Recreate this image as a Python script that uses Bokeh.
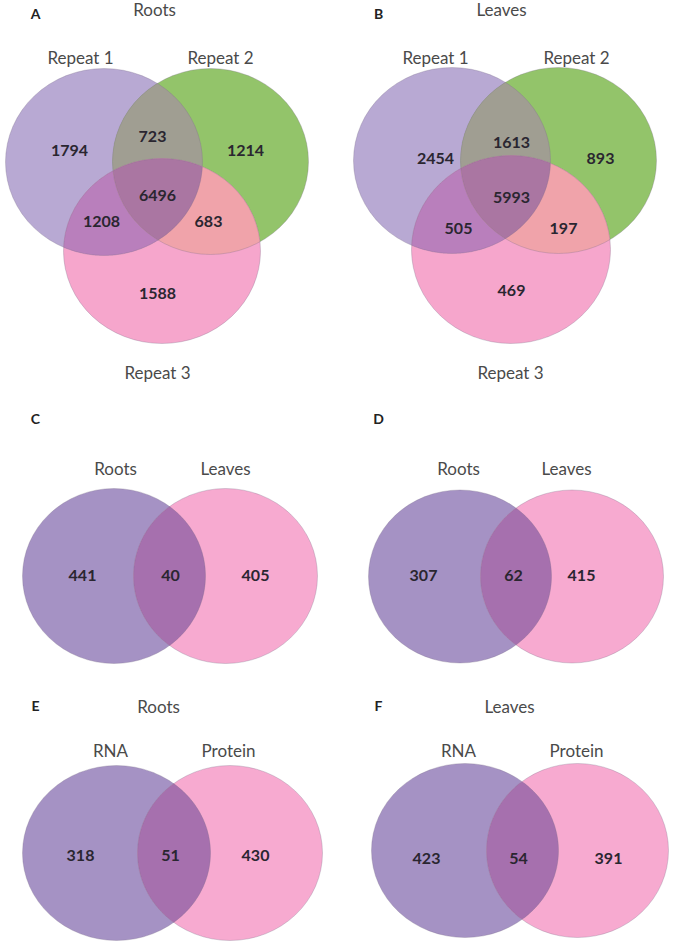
import numpy as np
from bokeh.plotting import figure
from bokeh.models import Range1d
from bokeh.core.properties import value
from bokeh.embed import file_html
from bokeh.resources import INLINE

# ---------------- data ----------------
panel_letters = ["A", "B", "C", "D", "E", "F"]
panel_titles = ["Roots", "Leaves", "", "", "Roots", "Leaves"]
repeat_sets = ["Repeat 1", "Repeat 2", "Repeat 3"]
# order: only1, only2, only3, 1&2, 1&3, 2&3, 1&2&3
roots_counts = [1794, 1214, 1588, 723, 1208, 683, 6496]
leaves_counts = [2454, 893, 469, 1613, 505, 197, 5993]
tissue_sets = ["Roots", "Leaves"]
omic_sets = ["RNA", "Protein"]
# order: only left, both, only right
c_counts = [441, 40, 405]
d_counts = [307, 62, 415]
e_counts = [318, 51, 430]
f_counts = [423, 54, 391]

# ---------------- styles ----------------
FONT = value("Lato")
PURPLE3, GREEN3, PINK3 = "#b8a9d3", "#93c46a", "#f6a6cc"
PG3, PP3, GP3, ALL3 = "#a09e92", "#b97fbc", "#f0a3aa", "#aa76a2"
PURPLE2, PINK2, OV2 = "#a592c4", "#f7aad0", "#a670ae"
EDGE = "#7d6f8c"
NUM_COLOR, LAB_COLOR = "#2a2630", "#4a4a4a"

p = figure(width=676, height=946, output_backend="svg", toolbar_location=None,
           x_range=Range1d(0, 676), y_range=Range1d(946, 0), min_border=0)
p.axis.visible = False
p.grid.visible = False
p.outline_line_color = None
p.background_fill_color = "white"
p.border_fill_color = "white"


def ell_pts(e, n=720):
    cx, cy, rx, ry = e
    t = np.linspace(0, 2 * np.pi, n, endpoint=False)
    return cx + rx * np.cos(t), cy + ry * np.sin(t)


def inside(x, y, e):
    cx, cy, rx, ry = e
    return ((x - cx) / rx) ** 2 + ((y - cy) / ry) ** 2 <= 1.0 + 1e-9


def intersection(ells):
    xs, ys = [], []
    for i, e in enumerate(ells):
        x, y = ell_pts(e)
        m = np.ones_like(x, dtype=bool)
        for j, o in enumerate(ells):
            if j != i:
                m &= inside(x, y, o)
        xs.append(x[m]); ys.append(y[m])
    x = np.concatenate(xs); y = np.concatenate(ys)
    mx, my = x.mean(), y.mean()
    order = np.argsort(np.arctan2(y - my, x - mx))
    return list(x[order]), list(y[order])


def draw_ellipse(e, color):
    cx, cy, rx, ry = e
    p.ellipse(x=[cx], y=[cy], width=[2 * rx], height=[2 * ry], fill_color=color,
              line_color=None)


def draw_outline(e):
    cx, cy, rx, ry = e
    p.ellipse(x=[cx], y=[cy], width=[2 * rx], height=[2 * ry], fill_color=None,
              line_color=EDGE, line_alpha=0.3, line_width=1)


def draw_patch(ells, color):
    x, y = intersection(ells)
    p.patch(x=x, y=y, fill_color=color, line_color=None)


def texts(xs, ys, labels, size, color, style="normal"):
    p.text(x=xs, y=ys, text=[str(s) for s in labels], text_align="center",
           text_baseline="middle", text_font=FONT, text_font_size=size,
           text_color=color, text_font_style=style)


# ---------------- three-set panels ----------------
three_layout = [
    dict(e=[(103.5, 161.5, 98.5, 93.5), (210, 161, 98, 93), (161.5, 250.5, 98.5, 92.5)],
         cpos=[(69, 150), (245, 150), (157, 293), (152, 136), (101, 221), (208, 221), (157, 195)],
         lpos=[(80, 57), (220, 57), (157, 372)], letter=(35, 13), title=(154, 9),
         counts=roots_counts),
    dict(e=[(451.5, 160, 98.5, 93), (558, 160, 98, 93), (510.5, 249, 99.5, 94)],
         cpos=[(435, 158), (600, 158), (511, 290), (511, 142), (458, 228), (563, 228), (511, 197)],
         lpos=[(435, 57), (576, 57), (510, 372)], letter=(378, 13), title=(501, 9),
         counts=leaves_counts),
]

for k, L in enumerate(three_layout):
    e1, e2, e3 = L["e"]
    draw_ellipse(e1, PURPLE3)
    draw_ellipse(e2, GREEN3)
    draw_ellipse(e3, PINK3)
    draw_patch([e1, e2], PG3)
    draw_patch([e1, e3], PP3)
    draw_patch([e2, e3], GP3)
    draw_patch([e1, e2, e3], ALL3)
    for e in (e1, e2, e3):
        draw_outline(e)
    texts([c[0] for c in L["cpos"]], [c[1] for c in L["cpos"]], L["counts"], "16px", NUM_COLOR, "bold")
    texts([c[0] for c in L["lpos"]], [c[1] for c in L["lpos"]], repeat_sets, "17px", LAB_COLOR)
    texts([L["letter"][0]], [L["letter"][1]], [panel_letters[k]], "14px", "#222222", "bold")
    texts([L["title"][0]], [L["title"][1]], [panel_titles[k]], "17px", LAB_COLOR)

# ---------------- two-set panels ----------------
two_layout = [
    dict(e=[(113.5, 575.5, 91.5, 87.5), (225, 575.5, 92, 87.5)],
         cpos=[(82, 575), (170, 575), (255, 575)], lpos=[(115, 468), (225, 468)],
         letter=(35, 418), title=None, counts=c_counts, sets=tissue_sets),
    dict(e=[(459.5, 576, 91.5, 86.5), (571.5, 576, 91.5, 86.5)],
         cpos=[(423, 575), (513, 575), (581, 575)], lpos=[(458, 468), (566, 468)],
         letter=(378, 418), title=None, counts=d_counts, sets=tissue_sets),
    dict(e=[(116, 852.5, 94, 87.5), (229.5, 852.5, 92.5, 87.5)],
         cpos=[(80, 855), (170, 855), (255, 855)], lpos=[(110, 750), (228, 750)],
         letter=(35, 705), title=(158, 706), counts=e_counts, sets=omic_sets),
    dict(e=[(464.5, 850, 93.5, 87), (577, 850, 91, 87)],
         cpos=[(426, 858), (518, 858), (608, 858)], lpos=[(458, 750), (576, 750)],
         letter=(378, 705), title=(509, 706), counts=f_counts, sets=omic_sets),
]

for k, L in enumerate(two_layout):
    e1, e2 = L["e"]
    draw_ellipse(e1, PURPLE2)
    draw_ellipse(e2, PINK2)
    draw_patch([e1, e2], OV2)
    for e in (e1, e2):
        draw_outline(e)
    texts([c[0] for c in L["cpos"]], [c[1] for c in L["cpos"]], L["counts"], "16px", NUM_COLOR, "bold")
    texts([c[0] for c in L["lpos"]], [c[1] for c in L["lpos"]], L["sets"], "17px", LAB_COLOR)
    texts([L["letter"][0]], [L["letter"][1]], [panel_letters[k + 2]], "14px", "#222222", "bold")
    if L["title"] is not None:
        texts([L["title"][0]], [L["title"][1]], [panel_titles[k + 2]], "17px", LAB_COLOR)

open("out.html", "w").write(file_html(p, INLINE))
